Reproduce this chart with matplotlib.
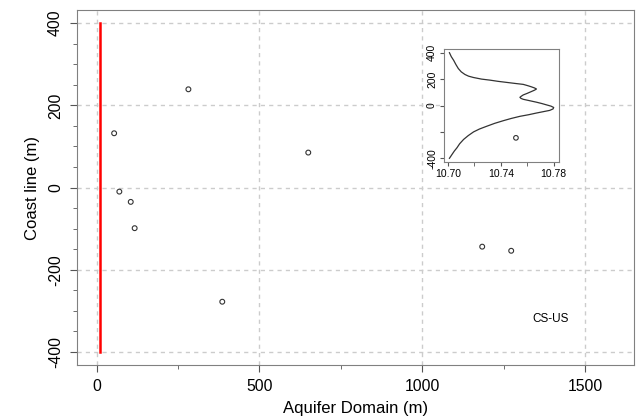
import matplotlib
matplotlib.use("Agg")
import matplotlib.pyplot as plt
from matplotlib.ticker import MultipleLocator

plt.rcParams['font.family'] = ['Liberation Sans', 'DejaVu Sans']
plt.rcParams['axes.unicode_minus'] = False

# Main scatter data
aquifer_x = [54, 70, 105, 117, 282, 386, 650, 1184, 1273]
coast_y = [132, -10, -35, -99, 239, -278, 85, -144, -154]

# Red vertical line
line_x = [12, 12]
line_y = [-400, 400]

# Inset curve (density-like)
inset_y = [400, 370, 342, 310, 280, 255, 235, 222, 212, 200, 192, 183, 175,
           167, 160, 150, 142, 133, 125, 116, 105, 92, 80, 70, 62, 54, 47, 36,
           25, 15, 5, -5, -15, -26, -37, -47, -57, -70, -82, -98, -115, -135,
           -157, -178, -200, -228, -257, -290, -320, -345, -370, -400]
inset_x = [10.7013, 10.7027, 10.7045, 10.7062, 10.708, 10.7102, 10.713,
           10.7158, 10.7195, 10.7255, 10.732, 10.738, 10.7445, 10.751, 10.757,
           10.7605, 10.763, 10.7655, 10.767, 10.7655, 10.763, 10.760, 10.757,
           10.7555, 10.7545, 10.7553, 10.757, 10.762, 10.767, 10.771, 10.7745,
           10.778, 10.780, 10.7795, 10.777, 10.772, 10.767, 10.761, 10.7545,
           10.748, 10.742, 10.7355, 10.7295, 10.724, 10.7195, 10.7155, 10.712,
           10.709, 10.707, 10.705, 10.7033, 10.7013]
inset_pt_x = [10.7515]
inset_pt_y = [-245]

xticks = [0, 500, 1000, 1500]
yticks = [-400, -200, 0, 200, 400]
inset_xticks = [10.70, 10.74, 10.78]
inset_xlabels = ['10.70', '10.74', '10.78']
inset_yticks = [-400, -200, 0, 200, 400]
inset_ylabels = ['-400', '', '0', '200', '400']

fig = plt.figure(figsize=(6.38, 4.2), dpi=100)
ax = fig.add_axes([77/638, 1-365/420, 557/638, 355/420])

grid_kw = dict(color='#cccccc', linestyle=(0, (3, 3)), linewidth=1.0, zorder=0)
for gx in xticks:
    ax.axvline(gx, **grid_kw)
for gy in yticks:
    ax.axhline(gy, **grid_kw)

ax.plot(line_x, line_y, color='red', linewidth=1.8, zorder=2)
ax.scatter(aquifer_x, coast_y, s=12, facecolors='none', edgecolors='#333333',
           linewidths=0.8, zorder=3)

ax.set_xlim(-60, 1650)
ax.set_ylim(-432, 432)
ax.set_xticks(xticks)
ax.set_yticks(yticks)
ax.xaxis.set_minor_locator(MultipleLocator(250))
ax.yaxis.set_minor_locator(MultipleLocator(50))
ax.tick_params(axis='both', which='major', length=5, color='#555555', labelsize=11.3, pad=5)
ax.tick_params(axis='both', which='minor', length=3, color='#555555')
for lbl in ax.get_yticklabels():
    lbl.set_rotation(90)
    lbl.set_va('center')
for sp in ax.spines.values():
    sp.set_color('#808080')
ax.set_xlabel('Aquifer Domain (m)', fontsize=12, labelpad=5)
ax.set_ylabel('Coast line (m)', fontsize=12, labelpad=6)
ax.text(1395, -320, 'CS-US', fontsize=8.5, ha='center', va='center')

# Inset
axi = fig.add_axes([444/638, 1-162/420, 115/638, 113/420])
axi.plot(inset_x, inset_y, color='#333333', linewidth=0.9)
axi.scatter(inset_pt_x, inset_pt_y, s=11, facecolors='none', edgecolors='#333333',
            linewidths=0.8)
axi.set_xlim(10.6972, 10.7840)
axi.set_ylim(-428, 428)
axi.set_xticks(inset_xticks)
axi.set_xticklabels(inset_xlabels)
axi.set_xticks([10.72, 10.76], minor=True)
axi.set_yticks(inset_yticks)
axi.set_yticklabels(inset_ylabels)
axi.tick_params(axis='both', which='major', length=3, color='#555555', labelsize=7.5, pad=2)
axi.tick_params(axis='both', which='minor', length=3, color='#555555')
for lbl in axi.get_yticklabels():
    lbl.set_rotation(90)
    lbl.set_va('center')
for sp in axi.spines.values():
    sp.set_color('#808080')

fig.savefig('out.png', dpi=100)
